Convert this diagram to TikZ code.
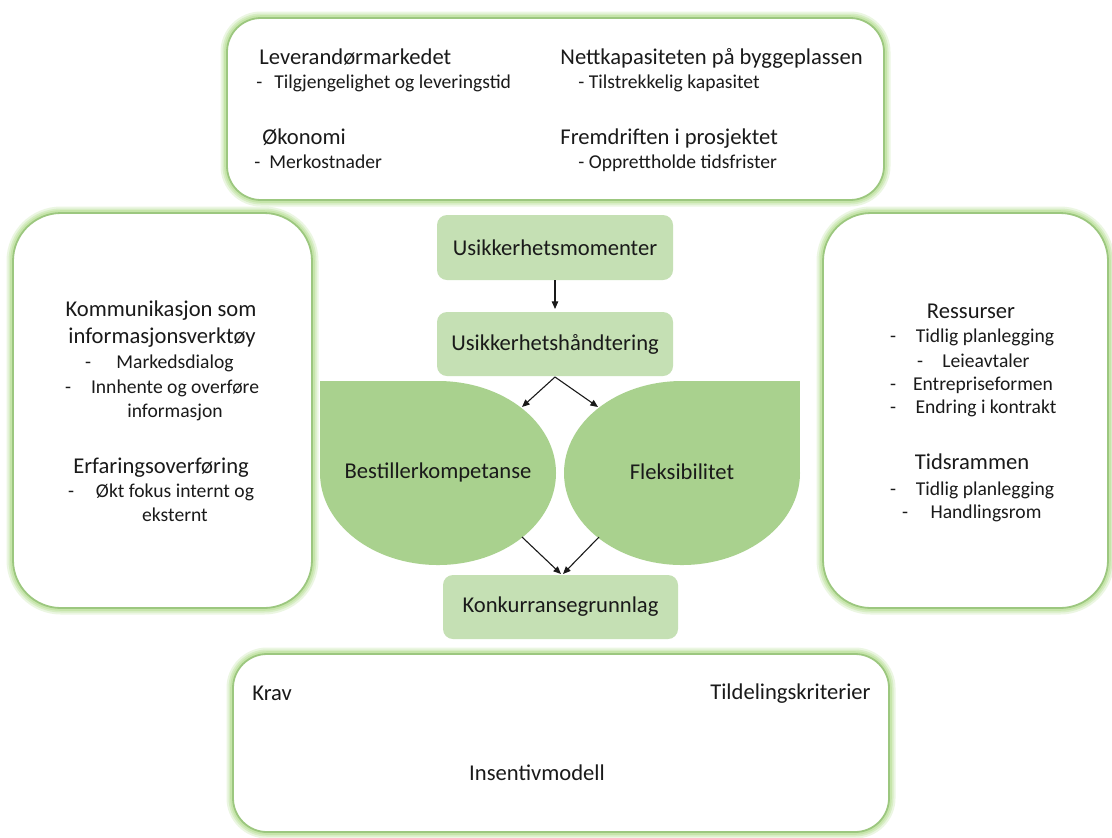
\documentclass[tikz,border=0pt]{standalone}
\usepackage{fontspec}
\setmainfont{Carlito}
\usetikzlibrary{arrows.meta}
\definecolor{glow}{HTML}{BFE3A0}
\definecolor{rim}{HTML}{9CC77F}
\definecolor{boxfill}{HTML}{C5E0B4}
\definecolor{petal}{HTML}{A9D18E}
\definecolor{ink}{HTML}{1A1A1A}
\tikzset{
  x=0.5pt, y=-0.5pt,
  head/.style={font=\fontsize{11.3}{13}\selectfont, text=ink, inner sep=0pt},
  sub/.style={font=\fontsize{9.8}{12}\selectfont, text=ink, inner sep=0pt},
  stepbox/.style={fill=boxfill, rounded corners=5pt, draw=none},
  link/.style={draw=ink, line width=0.55pt, -{Triangle[length=3.8pt,width=3.2pt]}},
}
% panel with a soft green glow round its edge
\newcommand{\glowpanel}[3]{%
  \draw[glow, line width=6.5pt, opacity=0.3, rounded corners=#3] #1 rectangle #2;
  \draw[glow, line width=4.5pt, opacity=0.45, rounded corners=#3] #1 rectangle #2;
  \draw[glow, line width=2.8pt, opacity=0.7, rounded corners=#3] #1 rectangle #2;
  \draw[rim, line width=0.9pt, fill=white, rounded corners=#3] #1 rectangle #2;
}
\begin{document}
\begin{tikzpicture}
\useasboundingbox (0,0) rectangle (1112,837);
\fill[white] (0,0) rectangle (1112,837);

% outer panels
\glowpanel{(227,18)}{(884,200)}{17pt}
\glowpanel{(13,213)}{(312,608)}{24pt}
\glowpanel{(823,213)}{(1108,608)}{24pt}
\glowpanel{(233,654)}{(889,832)}{17pt}

% top panel
\node[head, anchor=base west] (lev) at (259,64) {Leverandørmarkedet};
\node[sub, anchor=base west] (levd) at (256,88) {-};
\node[sub, anchor=base west] (levt) at (274,88) {Tilgjengelighet og leveringstid};
\node[head, anchor=base west] (oko) at (262,144) {Økonomi};
\node[sub, anchor=base west] (okod) at (254,168) {-};
\node[sub, anchor=base west] (okot) at (269,168) {Merkostnader};
\node[head, anchor=base west] (nett) at (560,64) {Nettkapasiteten på byggeplassen};
\node[sub, anchor=base west] (nettt) at (578,88) {- Tilstrekkelig kapasitet};
\node[head, anchor=base west] (frem) at (560,144) {Fremdriften i prosjektet};
\node[sub, anchor=base west] (fremt) at (578,168) {- Opprettholde tidsfrister};

% left panel
\node[head, anchor=base] (kom1) at (161,316) {Kommunikasjon som};
\node[head, anchor=base] (kom2) at (162,343) {informasjonsverktøy};
\node[sub, anchor=base] (k1d) at (88,368) {-};
\node[sub, anchor=base] (k1) at (175,368) {Markedsdialog};
\node[sub, anchor=base] (k2d) at (68,393) {-};
\node[sub, anchor=base] (k2) at (175,393) {Innhente og overføre};
\node[sub, anchor=base] (k3) at (175,417) {informasjon};
\node[head, anchor=base] (erf) at (161,473) {Erfaringsoverføring};
\node[sub, anchor=base] (e1d) at (71,497) {-};
\node[sub, anchor=base] (e1) at (175,497) {Økt fokus internt og};
\node[sub, anchor=base] (e2) at (175,521) {eksternt};

% right panel
\node[head, anchor=base] (res) at (971,318) {Ressurser};
\node[sub, anchor=base] (r1d) at (893,342) {-};
\node[sub, anchor=base] (r1) at (985,342) {Tidlig planlegging};
\node[sub, anchor=base] (r2d) at (920,367) {-};
\node[sub, anchor=base] (r2) at (986,367) {Leieavtaler};
\node[sub, anchor=base] (r3d) at (893,390) {-};
\node[sub, anchor=base] (r3) at (983,390) {Entrepriseformen};
\node[sub, anchor=base] (r4d) at (893,413) {-};
\node[sub, anchor=base] (r4) at (986,413) {Endring i kontrakt};
\node[head, anchor=base] (tid) at (972,469) {Tidsrammen};
\node[sub, anchor=base] (t1d) at (893,495) {-};
\node[sub, anchor=base] (t1) at (985,495) {Tidlig planlegging};
\node[sub, anchor=base] (t2d) at (905,518) {-};
\node[sub, anchor=base] (t2) at (986,518) {Handlingsrom};

% bottom panel
\node[head, anchor=base west] (krav) at (252,700) {Krav};
\node[head, anchor=base east] (tild) at (871,699) {Tildelingskriterier};
\node[head, anchor=base] (ins) at (537,780) {Insentivmodell};

% centre flow
\path[stepbox] (437,215) rectangle (673,280);
\node[head] (mom) at (555,247.5) {Usikkerhetsmomenter};
\path[stepbox] (437,312) rectangle (673,376);
\node[head] (hand) at (555,344) {Usikkerhetshåndtering};
\path[stepbox] (443,575) rectangle (678,639);
\node[head] (konk) at (560.5,607) {Konkurransegrunnlag};

% the two petals: an ellipse with one square corner each
\fill[petal] (320,381) rectangle (438,473);
\fill[petal] (438,473) ellipse [x radius=118, y radius=92];
\node[head] (best) at (438,472) {Bestillerkompetanse};
\fill[petal] (682,381) rectangle (800,473);
\fill[petal] (682,473) ellipse [x radius=118, y radius=92];
\node[head] (flek) at (682,472) {Fleksibilitet};

% connector end points
\coordinate (momS) at (555,280);
\coordinate (handN) at (555,309);
\coordinate (handS) at (555,377);
\coordinate (bestNE) at (522,407);
\coordinate (flekNW) at (598,407);
\coordinate (bestSE) at (522,537);
\coordinate (flekSW) at (599,537);
\coordinate (konkL) at (561,574);
\coordinate (konkR) at (563,574);

\draw[link] (momS) -- (handN);
\draw[link] (handS) -- (bestNE);
\draw[link] (handS) -- (flekNW);
\draw[link] (bestSE) -- (konkL);
\draw[link] (flekSW) -- (konkR);
\end{tikzpicture}
\end{document}
